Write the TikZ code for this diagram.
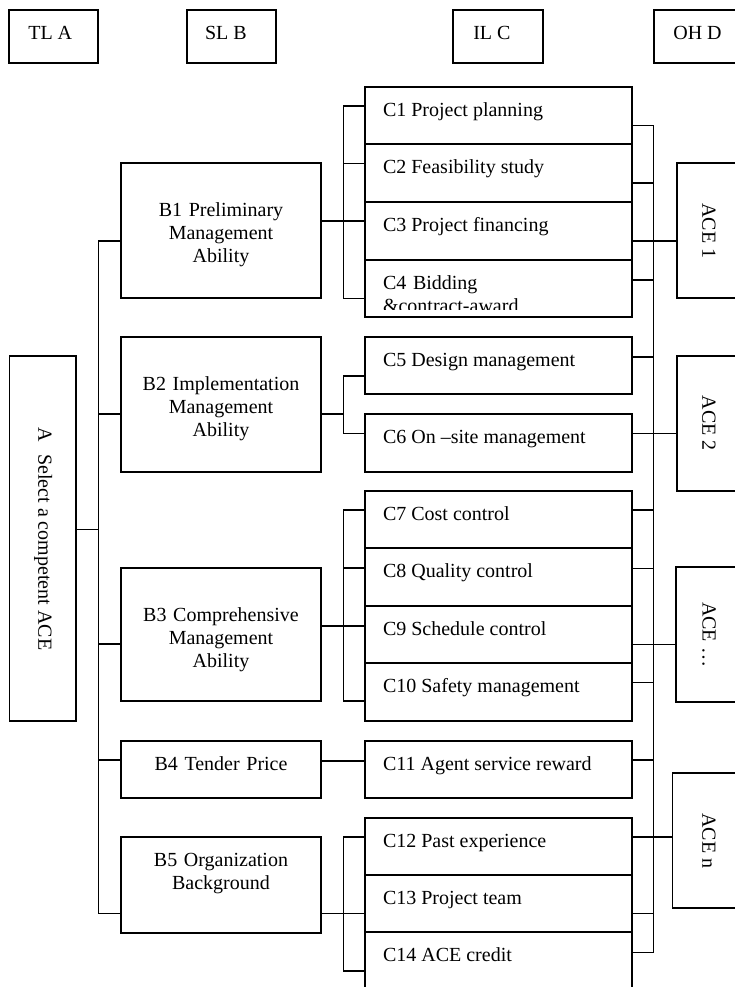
\documentclass[tikz,border=0pt]{standalone}
\usepackage{fontspec}
\setmainfont{Liberation Serif}
\usetikzlibrary{calc}
\newcommand\mybox[5]{\node[box, minimum width={#4-#2}, minimum height={#5-#3}, anchor=north west] (#1) at (#2,#3) {};}
\newcommand\ctxt[3]{\node[txt, anchor=base west] (#1t) at (383,#2+29.5) {#3};}
\begin{document}
\begin{tikzpicture}[x=1pt,y=-1pt,
  box/.style={draw, line width=1.9pt, inner sep=0pt, outer sep=0pt, rectangle},
  conn/.style={line width=1.6pt},
  txt/.style={inner sep=0pt, outer sep=0pt, font=\fontsize{20}{23}\selectfont},
  btxt/.style={txt, text width=195pt, align=center, anchor=base},
  acetxt/.style={txt, rotate=-90, anchor=center}]
\useasboundingbox (0,0) rectangle (734,987);
% header
\mybox{hA}{9.3}{10}{98.3}{63.3}
\mybox{hB}{187.3}{10}{276}{63.3}
\mybox{hC}{453.3}{10}{542.7}{63.3}
\mybox{hD}{654.3}{10}{748}{63.3}
\node[txt, anchor=base west] (hAt) at (28.3,40) {TL A};
\node[txt, anchor=base west] (hBt) at (205,40) {SL B};
\node[txt, anchor=base west] (hCt) at (473.3,40) {IL C};
\node[txt, anchor=base west] (hDt) at (673.3,40) {OH D};
% A
\mybox{a}{9.5}{356}{76}{721}
\node[txt, rotate=-90] (at) at (43.3,539) {A\hspace{12pt}Select a competent ACE};
% B boxes
\mybox{b1}{120.7}{163}{321}{298.3}
\mybox{b2}{120.7}{336.7}{321}{471.7}
\mybox{b3}{120.7}{567.7}{321}{701}
\mybox{b4}{120.7}{740.7}{321}{798.3}
\mybox{b5}{120.7}{836.7}{321}{932.7}
\node[btxt] (b1t) at (221,216.5) {B1 Preliminary\\Management\\Ability};
\node[btxt] (b2t) at (221,390.5) {B2 Implementation\\Management\\Ability};
\node[btxt] (b3t) at (221,621) {B3 Comprehensive\\Management\\Ability};
\node[btxt] (b4t) at (221,770) {B4 Tender Price};
\node[btxt] (b5t) at (221,866.5) {B5 Organization\\Background};
% C boxes
\mybox{c1}{365}{86.7}{632}{144.3}
\mybox{c2}{365}{144.3}{632}{201.7}
\mybox{c3}{365}{201.7}{632}{260}
\mybox{c4}{365}{260}{632}{317.3}
\mybox{c5}{365}{336.7}{632}{394}
\mybox{c6}{365}{414}{632}{471.7}
\mybox{c7}{365}{490.7}{632}{548.3}
\mybox{c8}{365}{548.3}{632}{606}
\mybox{c9}{365}{606}{632}{663.3}
\mybox{c10}{365}{663.3}{632}{720.7}
\mybox{c11}{365}{740.7}{632}{798.3}
\mybox{c12}{365}{817.7}{632}{875}
\mybox{c13}{365}{875}{632}{932.3}
\mybox{c14}{365}{932.3}{632}{1000}
\ctxt{c1}{86.7}{C1 Project planning}
\ctxt{c2}{144.3}{C2 Feasibility study}
\ctxt{c3}{201.7}{C3 Project financing}
\begin{scope}
\clip (365,260) rectangle (632,309.5);
\node[txt, text width=240pt, align=left, anchor=base west] (c4t) at (383,289.5) {C4 Bidding\\\&contract-award};
\end{scope}
\ctxt{c5}{336.7}{C5 Design management}
\ctxt{c6}{414}{C6 On –site management}
\ctxt{c7}{490.7}{C7 Cost control}
\ctxt{c8}{548.3}{C8 Quality control}
\ctxt{c9}{606}{C9 Schedule control}
\ctxt{c10}{663.3}{C10 Safety management}
\ctxt{c11}{740.7}{C11 Agent service reward}
\ctxt{c12}{817.7}{C12 Past experience}
\ctxt{c13}{875}{C13 Project team}
\ctxt{c14}{932.3}{C14 ACE credit}
% ACE boxes
\mybox{ace1}{676.7}{163.3}{748}{298.3}
\mybox{ace2}{676.7}{356}{748}{490.7}
\mybox{ace3}{676}{567.3}{748}{701.7}
\mybox{acen}{672.5}{773.3}{748}{908.3}
\node[acetxt] (ace1t) at (709,230.8) {ACE 1};
\node[acetxt] (ace2t) at (709,423.3) {ACE 2};
\node[acetxt] (ace3t) at (709,634.5) {ACE …};
\node[acetxt] (acent) at (709,840.8) {ACE n};
% A to B bus
\draw[conn] (a.east |- 0,529.3) -- (98.3,529.3);
\draw[conn] (b1.west |- 0,241) -| (98.3,913.3) -- (b5.west |- 0,913.3);
\draw[conn] (98.3,413.7) -- (b2.west |- 0,413.7);
\draw[conn] (98.3,644) -- (b3.west |- 0,644);
\draw[conn] (98.3,760) -- (b4.west |- 0,760);
% B to C
\draw[conn] (c1.west |- 0,106) -| (343.3,298.3) -- (c4.west |- 0,298.3);
\draw[conn] (343.3,163.7) -- (c2.west |- 0,163.7);
\draw[conn] (b1.east |- 0,220.7) -- (c3.west |- 0,220.7);
\draw[conn] (c5.west |- 0,375.7) -| (343.3,433.3) -- (c6.west |- 0,433.3);
\draw[conn] (b2.east |- 0,414) -- (343.3,414);
\draw[conn] (c7.west |- 0,510) -| (343.3,701) -- (c10.west |- 0,701);
\draw[conn] (343.3,567.7) -- (c8.west |- 0,567.7);
\draw[conn] (b3.east |- 0,625.7) -- (c9.west |- 0,625.7);
\draw[conn] (b4.east |- 0,760.7) -- (c11.west |- 0,760.7);
\draw[conn] (c12.west |- 0,836.7) -| (343.3,970.7) -- (c14.west |- 0,970.7);
\draw[conn] (b5.east |- 0,913.3) -- (c13.west |- 0,913.3);
% C to D bus
\draw[conn] (c1.east |- 0,125.7) -| (653.5,952.3) -- (c14.east |- 0,952.3);
\draw[conn] (c2.east |- 0,183.3) -- (653.5,183.3);
\draw[conn] (c4.east |- 0,280) -- (653.5,280);
\draw[conn] (c5.east |- 0,356.7) -- (653.5,356.7);
\draw[conn] (c7.east |- 0,510) -- (653.5,510);
\draw[conn] (c8.east |- 0,568.3) -- (653.5,568.3);
\draw[conn] (c10.east |- 0,682.3) -- (653.5,682.3);
\draw[conn] (c11.east |- 0,760) -- (653.5,760);
\draw[conn] (c13.east |- 0,913.3) -- (653.5,913.3);
\draw[conn] (c3.east |- 0,241) -- (ace1.west |- 0,241);
\draw[conn] (c6.east |- 0,433.3) -- (ace2.west |- 0,433.3);
\draw[conn] (c9.east |- 0,644.3) -- (ace3.west |- 0,644.3);
\draw[conn] (c12.east |- 0,836.7) -- (acen.west |- 0,836.7);
\end{tikzpicture}
\end{document}
